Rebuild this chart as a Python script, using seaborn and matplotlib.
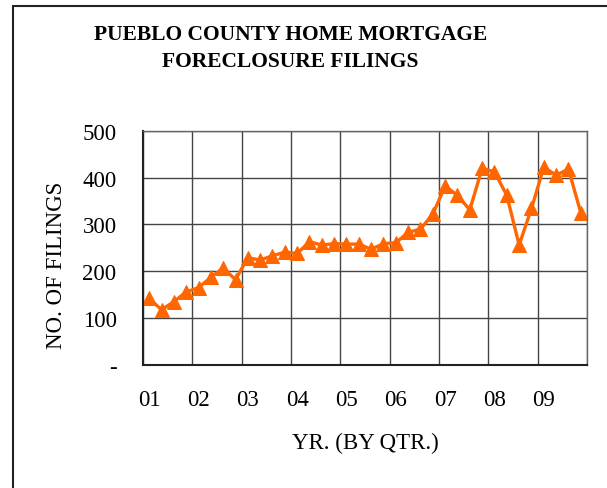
import numpy as np
import pandas as pd
import matplotlib
matplotlib.use("Agg")
import matplotlib.pyplot as plt
import seaborn as sns
from matplotlib.patches import Rectangle

# %% Data (quarterly filings, 2001 Q1 - 2009 Q4)
year_labels = ["01", "02", "03", "04", "05", "06", "07", "08", "09"]
filings = [142, 118, 135, 156, 165, 187, 207, 182,
           229, 224, 233, 241, 238, 263, 256, 259,
           258, 258, 247, 259, 261, 283, 290, 322,
           382, 362, 331, 420, 412, 362, 256, 334,
           422, 405, 418, 325]
df = pd.DataFrame({"qtr": np.arange(len(filings)), "filings": filings})

# %% Style
sns.set_theme(style="white")
plt.rcParams["font.family"] = ["Liberation Serif", "DejaVu Serif"]
plt.rcParams["text.color"] = "black"
plt.rcParams["axes.labelcolor"] = "black"
plt.rcParams["xtick.color"] = "black"
plt.rcParams["ytick.color"] = "black"

fig = plt.figure(figsize=(6.07, 4.89), dpi=100)
ax = fig.add_axes([0.2356, 0.2515, 0.7314, 0.4792])

sns.lineplot(data=df, x="qtr", y="filings", ax=ax, color="#FF6600",
             linewidth=2.4, marker="^", markersize=10, markeredgecolor="#FF6600")

ax.set_xlim(-0.5, len(filings) - 0.5)
ax.set_ylim(0, 500)

# gridlines between years, labels at the first quarter of each year
ax.set_xticks(np.arange(-0.5, len(filings), 4))
ax.set_xticklabels([])
ax.set_xticks(np.arange(0, len(filings), 4), minor=True)
ax.set_xticklabels(year_labels, minor=True)
ax.tick_params(axis="x", which="major", direction="out", length=6, width=1, color="#333333")
ax.tick_params(axis="x", which="minor", length=0, pad=17, labelsize=16.5)

ax.set_yticks([0, 100, 200, 300, 400, 500])
ax.set_yticklabels(["-", "100", "200", "300", "400", "500"])
ax.tick_params(axis="y", direction="out", length=6, width=1, color="#333333", pad=13, labelsize=16.5)

ax.grid(True, which="major", color="#444444", linewidth=1)
for side in ["top", "right"]:
    ax.spines[side].set_color("#666666")
    ax.spines[side].set_linewidth(1)
for side in ["left", "bottom"]:
    ax.spines[side].set_color("#222222")
    ax.spines[side].set_linewidth(1.5)

ax.set_xlabel("YR. (BY QTR.)", fontsize=16.5, labelpad=16)
ax.set_ylabel("NO. OF FILINGS", fontsize=16.5, labelpad=11)
ax.yaxis.label.set_y(0.43)

fig.text(0.478, 0.9008, "PUEBLO COUNTY HOME MORTGAGE\nFORECLOSURE FILINGS",
         ha="center", va="center", fontsize=15.5, fontweight="bold", linespacing=1.5)

# outer chart border
fig.patches.append(Rectangle((13 / 607, -0.05), 1.2, (489 - 7) / 489 + 0.05,
                             transform=fig.transFigure, fill=False,
                             edgecolor="#222222", linewidth=1.5))

fig.savefig("out.png", dpi=100)
